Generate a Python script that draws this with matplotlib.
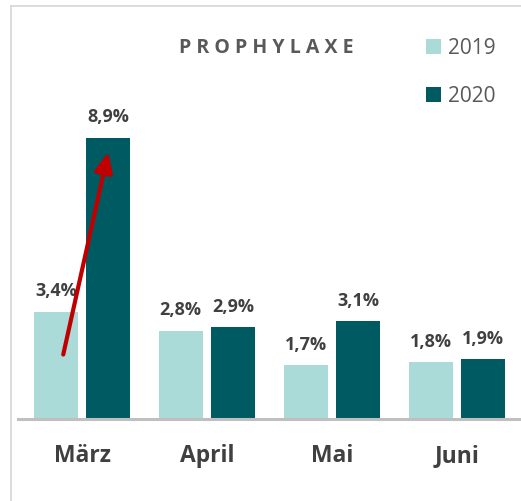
import matplotlib.pyplot as plt
from matplotlib.lines import Line2D
import numpy as np

plt.rcParams['font.family'] = ['Open Sans', 'DejaVu Sans']

# Data (percent)
months = ['März', 'April', 'Mai', 'Juni']
vals_2019 = [3.4, 2.8, 1.7, 1.8]
vals_2020 = [8.9, 2.9, 3.1, 1.9]
series_names = ['2019', '2020']

c_2019 = '#ABDBD8'
c_2020 = '#005A62'
text_dark = '#404040'
text_grey = '#595959'

fig = plt.figure(figsize=(5.21, 5.01), dpi=100)
ax = fig.add_axes([18 / 521, 1 - 419 / 501, 503 / 521, 316 / 501])

x = np.arange(len(months))
off = 0.21
w = 0.35
b1 = ax.bar(x - off, vals_2019, w, color=c_2019, label=series_names[0], zorder=2)
b2 = ax.bar(x + off, vals_2020, w, color=c_2020, label=series_names[1], zorder=2)

# value labels
for bars, vals in [(b1, vals_2019), (b2, vals_2020)]:
    for bar, v in zip(bars, vals):
        ax.annotate(f'{v:.1f}%'.replace('.', ','),
                    (bar.get_x() + bar.get_width() / 2, v),
                    xytext=(0, 11), textcoords='offset points',
                    ha='center', va='baseline', fontsize=13,
                    fontweight='bold', color=text_dark)

# red arrow März 2019 -> 2020
ax.annotate('', xy=(x[0] + off, vals_2020[0] - 0.45),
            xytext=(x[0] - off + 0.06, vals_2019[0] * 0.6),
            arrowprops=dict(arrowstyle='-|>,head_length=0.6,head_width=0.27',
                            color='#C00000', lw=3, mutation_scale=20,
                            shrinkA=0, shrinkB=0), zorder=5)

ax.set_xlim(-0.512, 3.512)
ax.set_ylim(0, 10)
ax.set_xticks(x)
ax.set_xticklabels(months, fontsize=16.5, fontweight='bold', color=text_dark)
ax.tick_params(axis='x', length=0, pad=18)
ax.set_yticks([])
for s in ['top', 'right', 'left']:
    ax.spines[s].set_visible(False)
ax.spines['bottom'].set_color('#BFBFBF')
ax.spines['bottom'].set_linewidth(2.2)
ax.spines['bottom'].set_zorder(3)

# title
fig.text(266 / 521, 1 - 53 / 501, 'P R O P H Y L A X E', ha='center',
         va='baseline', fontsize=14, fontweight='bold', color=text_grey)

# legend
leg = fig.legend(handles=[b1, b2], labels=series_names, loc='upper left',
                 bbox_to_anchor=(426 / 521, 1 - 38 / 501), frameon=False,
                 fontsize=15, handlelength=0.7, handleheight=0.7,
                 handletextpad=0.35, labelspacing=1.3, borderpad=0,
                 borderaxespad=0)
for t in leg.get_texts():
    t.set_color(text_grey)

# chart border (only left and top edges are visible)
bx, by = 11 / 521, 1 - 6 / 501
fig.add_artist(Line2D([bx, bx], [0, by], transform=fig.transFigure,
                      color='#D9D9D9', lw=1.3))
fig.add_artist(Line2D([bx, 1], [by, by], transform=fig.transFigure,
                      color='#D9D9D9', lw=1.3))

fig.savefig('out.png', dpi=100)
